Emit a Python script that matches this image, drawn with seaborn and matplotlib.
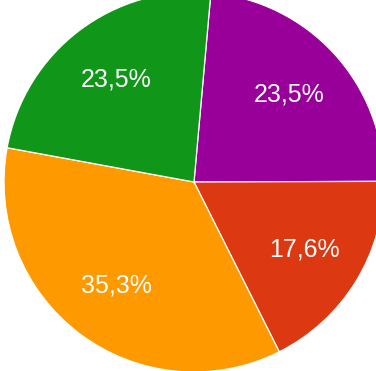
import matplotlib
matplotlib.use("Agg")
import matplotlib.pyplot as plt
import seaborn as sns

categories = ["A", "B", "C", "D"]
counts = [4, 3, 6, 4]
colors = ["#990099", "#dc3912", "#ff9900", "#109618"]

sns.set_style("white")
plt.rcParams['font.family'] = ['Liberation Sans', 'DejaVu Sans']

fig = plt.figure(figsize=(3.76, 3.71), dpi=100)
ax = fig.add_axes([0, 0, 1, 1])
palette = sns.color_palette(colors)

def fmt(p):
    return f"{p:.1f}%".replace(".", ",")

wedges, texts, autotexts = ax.pie(
    counts, colors=palette, startangle=84.9, counterclock=False,
    autopct=fmt, pctdistance=0.68, radius=1.0,
    wedgeprops=dict(edgecolor="white", linewidth=0.9),
    textprops=dict(color="white", fontsize=18),
)
ax.set_aspect("auto")
ax.set_xlim(-194 / 190, (376 - 194) / 190)
ax.set_ylim(-(371 - 182) / 190, 182 / 190)
ax.axis("off")
fig.savefig("out.png", dpi=100)
